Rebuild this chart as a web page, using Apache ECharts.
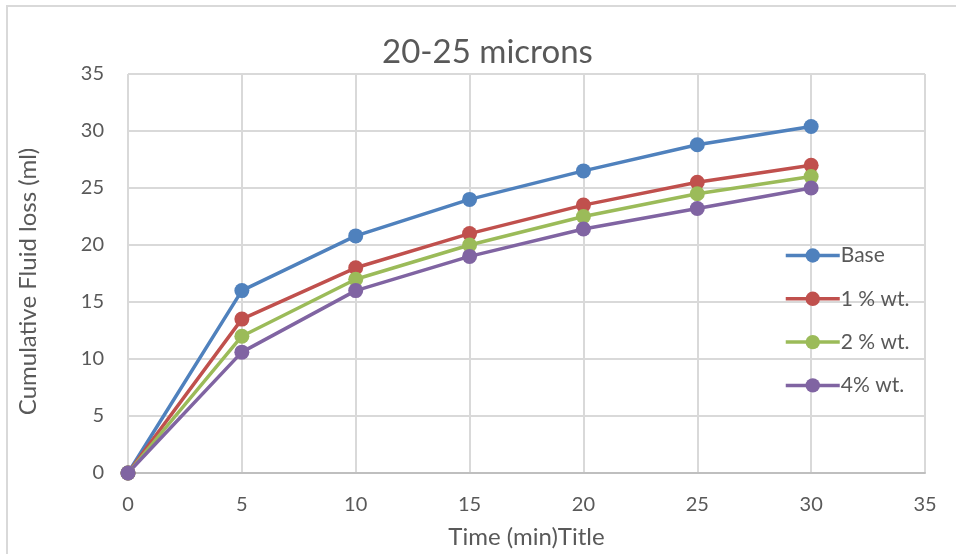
<!DOCTYPE html>
<html>
<head>
<meta charset="utf-8">
<script src="https://cdn.jsdelivr.net/npm/echarts@6/dist/echarts.min.js"></script>
<style>
  html, body { margin: 0; padding: 0; background: #fff; }
  #chart { width: 956px; height: 554px; }
</style>
</head>
<body>
<div id="chart"></div>
<script>
// Time points (min)
const times = [0, 5, 10, 15, 20, 25, 30];
// Cumulative fluid loss (ml) per additive loading
const baseLoss = [0, 16, 20.8, 24, 26.5, 28.8, 30.4];
const wt1Loss = [0, 13.5, 18, 21, 23.5, 25.5, 27];
const wt2Loss = [0, 12, 17, 20, 22.5, 24.5, 26];
const wt4Loss = [0, 10.6, 16, 19, 21.4, 23.2, 25];
const seriesNames = ['Base', '1 % wt.', '2 % wt.', '4% wt.'];
const seriesColors = ['#4f81bd', '#c0504d', '#9bbb59', '#8064a2'];
const seriesValues = [baseLoss, wt1Loss, wt2Loss, wt4Loss];

const FONT = 'Lato, "Open Sans", sans-serif';
const TEXT = '#595959';
const chart = echarts.init(document.getElementById('chart'), null, { renderer: 'canvas' });

const series = seriesNames.map((name, i) => ({
  name,
  type: 'line',
  data: times.map((t, j) => [t, seriesValues[i][j]]),
  symbol: 'circle',
  symbolSize: 15,
  lineStyle: { width: 3.5, color: seriesColors[i] },
  itemStyle: { color: seriesColors[i] },
  emphasis: { disabled: true },
  animation: false
}));

chart.setOption({
  backgroundColor: '#fff',
  animation: false,
  graphic: [{
    type: 'rect',
    shape: { x: 7, y: 6, width: 1000, height: 600 },
    style: { fill: 'none', stroke: '#d9d9d9', lineWidth: 2 },
    silent: true,
    z: -1
  }],
  title: {
    text: '20-25 microns',
    left: 377,
    top: 31,
    textStyle: { fontFamily: FONT, fontSize: 33, fontWeight: 'normal', color: TEXT }
  },
  legend: {
    orient: 'vertical',
    left: 784,
    top: 245,
    padding: 0,
    itemGap: 22.3,
    itemWidth: 54,
    itemHeight: 18,
    data: seriesNames,
    lineStyle: { width: 3.5 },
    textStyle: { fontFamily: FONT, fontSize: 21, color: TEXT, padding: [0, 0, 0, -4] },
    selectedMode: false
  },
  grid: { left: 128, right: 31, top: 74, bottom: 79, containLabel: false },
  xAxis: {
    type: 'value',
    min: 0, max: 35, interval: 5,
    name: 'Time (min)Title',
    nameLocation: 'middle',
    nameGap: 52,
    nameTextStyle: { fontFamily: FONT, fontSize: 24, color: TEXT },
    axisLine: { show: true, lineStyle: { color: '#bfbfbf', width: 2 } },
    axisTick: { show: false },
    axisLabel: { fontFamily: FONT, fontSize: 20, color: TEXT, margin: 22 },
    splitLine: { show: true, lineStyle: { color: '#d9d9d9', width: 2 } }
  },
  yAxis: {
    type: 'value',
    min: 0, max: 35, interval: 5,
    name: 'Cumulative Fluid loss (ml)',
    nameLocation: 'middle',
    nameGap: 88,
    nameTextStyle: { fontFamily: FONT, fontSize: 24, color: TEXT, padding: [0, 16, 0, 0] },
    axisLine: { show: false },
    axisTick: { show: false },
    axisLabel: { fontFamily: FONT, fontSize: 20, color: TEXT, margin: 24 },
    splitLine: { show: true, lineStyle: { color: '#d9d9d9', width: 2 } }
  },
  series
});
</script>
</body>
</html>
